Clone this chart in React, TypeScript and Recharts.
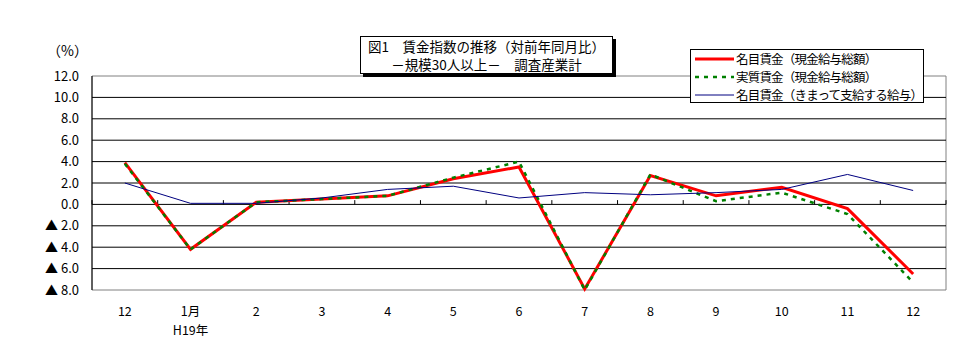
import React from 'react';
import { LineChart, Line, XAxis, YAxis, ReferenceLine, ReferenceArea } from 'recharts';

// month labels (H18/12 .. H19/12)
const months = ['12', '1月', '2', '3', '4', '5', '6', '7', '8', '9', '10', '11', '12'];
const subLabels = ['', 'H19年', '', '', '', '', '', '', '', '', '', '', ''];

// 名目賃金（現金給与総額）
const nominalTotal = [3.9, -4.2, 0.2, 0.5, 0.8, 2.4, 3.5, -7.9, 2.7, 0.8, 1.6, -0.4, -6.5];
// 実質賃金（現金給与総額）
const realTotal = [3.8, -4.2, 0.2, 0.5, 0.8, 2.5, 4.0, -8.0, 2.8, 0.3, 1.1, -0.9, -7.3];
// 名目賃金（きまって支給する給与）
const nominalScheduled = [2.0, 0.1, 0.1, 0.6, 1.4, 1.7, 0.6, 1.1, 0.9, 1.1, 1.4, 2.8, 1.3];

const yTicks = [-8, -6, -4, -2, 0, 2, 4, 6, 8, 10, 12];

const FONT = '"Noto Sans CJK JP", "Noto Sans", sans-serif';

const data = months.map((m, i) => ({
  x: i,
  nominalTotal: nominalTotal[i],
  realTotal: realTotal[i],
  nominalScheduled: nominalScheduled[i],
}));

// tick marks sit on the category boundaries
const boundaries = [...months.map((_, i) => i - 0.5), months.length - 0.5];

const YTick = ({ x, y, payload }: any) => {
  const v = payload.value as number;
  const label = v < 0 ? `▲ ${Math.abs(v).toFixed(1)}` : v.toFixed(1);
  return (
    <text x={x} y={y} dy={4.5} textAnchor="end" fontSize={13} fill="#000" fontFamily={FONT}>
      {label}
    </text>
  );
};

const XTick = ({ x, y, payload }: any) => {
  const i = payload.value as number;
  return (
    <g>
      <text x={x} y={y} dy={26} textAnchor="middle" fontSize={12.5} fill="#000" fontFamily={FONT}>
        {months[i]}
      </text>
      {subLabels[i] && (
        <text x={x} y={y} dy={45} textAnchor="middle" fontSize={12.5} fill="#000" fontFamily={FONT}>
          {subLabels[i]}
        </text>
      )}
    </g>
  );
};

const legendItems = [
  { label: '名目賃金（現金給与総額）', color: '#ff0000', width: 3, dash: undefined },
  { label: '実質賃金（現金給与総額）', color: '#008000', width: 2.5, dash: '4 5' },
  { label: '名目賃金（きまって支給する給与）', color: '#000080', width: 1, dash: undefined },
];

export default function App() {
  return (
    <div style={{ position: 'absolute', left: 0, top: 0, width: 972, height: 356, background: '#fff', fontFamily: FONT }}>
      <LineChart
        width={972}
        height={356}
        data={data}
        margin={{ top: 76, right: 26, bottom: 26, left: 32 }}
      >
        <ReferenceArea x1={-0.5} x2={12.5} y1={-8} y2={12} fill="none" stroke="#808080" strokeWidth={1} />
        {yTicks
          .filter(t => t > -8 && t < 12)
          .map(t => (
            <ReferenceLine key={`g${t}`} y={t} stroke="#000" strokeWidth={1} />
          ))}
        {boundaries.map(b => (
          <ReferenceLine
            key={`t${b}`}
            segment={[{ x: b, y: 0 }, { x: b, y: 0.4 }]}
            stroke="#000"
            strokeWidth={1}
          />
        ))}
        <XAxis
          type="number"
          dataKey="x"
          domain={[-0.5, 12.5]}
          ticks={months.map((_, i) => i)}
          interval={0}
          axisLine={false}
          tickLine={false}
          tickSize={0}
          tickMargin={0}
          height={40}
          tick={<XTick />}
        />
        <YAxis
          type="number"
          domain={[-8, 12]}
          ticks={yTicks}
          interval={0}
          width={60}
          axisLine={{ stroke: '#000' }}
          tickLine={false}
          tickSize={0}
          tickMargin={13}
          tick={<YTick />}
        />
        <Line
          type="linear"
          dataKey="nominalTotal"
          stroke="#ff0000"
          strokeWidth={3}
          dot={false}
          isAnimationActive={false}
        />
        <Line
          type="linear"
          dataKey="realTotal"
          stroke="#008000"
          strokeWidth={2.5}
          strokeDasharray="4 5"
          dot={false}
          isAnimationActive={false}
        />
        <Line
          type="linear"
          dataKey="nominalScheduled"
          stroke="#000080"
          strokeWidth={1}
          dot={false}
          isAnimationActive={false}
        />
      </LineChart>

      {/* unit */}
      <div style={{ position: 'absolute', left: 47, top: 40, fontSize: 14, lineHeight: '20px' }}>（%）</div>

      {/* title box */}
      <div
        style={{
          position: 'absolute',
          left: 360,
          top: 36,
          width: 251,
          height: 36,
          border: '1px solid #000',
          boxShadow: '3px 3px 0 #000',
          background: '#fff',
          fontSize: 13.5,
          lineHeight: '18px',
          textAlign: 'center',
          whiteSpace: 'nowrap',
        }}
      >
        <div>図1　賃金指数の推移（対前年同月比）</div>
        <div>－規模30人以上－　調査産業計</div>
      </div>

      {/* legend */}
      <div
        style={{
          position: 'absolute',
          left: 690,
          top: 49,
          width: 232,
          height: 52,
          border: '1px solid #000',
          background: '#fff',
          fontSize: 12.5,
          lineHeight: '18px',
          whiteSpace: 'nowrap',
        }}
      >
        {legendItems.map(item => (
          <div key={item.label} style={{ display: 'flex', alignItems: 'center', height: 18 }}>
            <svg width={45} height={18} style={{ flex: 'none' }}>
              <line
                x1={4}
                y1={9}
                x2={43}
                y2={9}
                stroke={item.color}
                strokeWidth={item.width}
                strokeDasharray={item.dash}
              />
            </svg>
            <span style={{ letterSpacing: -0.8 }}>{item.label}</span>
          </div>
        ))}
      </div>
    </div>
  );
}
